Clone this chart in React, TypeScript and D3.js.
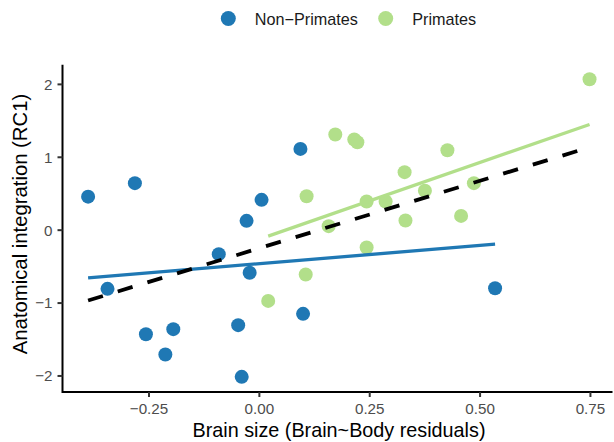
import React from "react";
import * as d3 from "d3";

// values
const nonPrimX = [-0.388, -0.282, -0.344, -0.257, -0.195, -0.213, -0.048, -0.04, -0.092, -0.022, -0.029, 0.005, 0.093, 0.099, 0.534];
const nonPrimY = [0.46, 0.645, -0.805, -1.427, -1.358, -1.706, -1.303, -2.012, -0.329, -0.585, 0.128, 0.416, 1.115, -1.148, -0.796];
const primX = [0.748, 0.172, 0.215, 0.222, 0.426, 0.329, 0.107, 0.375, 0.486, 0.243, 0.286, 0.331, 0.457, 0.157, 0.243, 0.105, 0.02];
const primY = [2.071, 1.312, 1.244, 1.207, 1.097, 0.796, 0.466, 0.54, 0.645, 0.393, 0.393, 0.133, 0.196, 0.055, -0.238, -0.608, -0.97];

// fitted lines: [x0, x1], [y0, y1]
const nonPrimFitX = [-0.388, 0.534];
const nonPrimFitY = [-0.654, -0.192];
const primFitX = [0.02, 0.748];
const primFitY = [-0.082, 1.45];
const allFitX = [-0.388, 0.748];
const allFitY = [-0.965, 1.137];

const groups = ["Non\u2212Primates", "Primates"];
const colors = ["#1f78b4", "#b2df8a"];
const xTicks = [-0.25, 0, 0.25, 0.5, 0.75];
const yTicks = [-2, -1, 0, 1, 2];

const W = 614;
const H = 442;
const font = "'Liberation Sans', Arial, Helvetica, sans-serif";

export default function App() {
  const x = d3.scaleLinear().domain([-0.446, 0.8]).range([62.5, 612.5]);
  const y = d3.scaleLinear().domain([-2.22, 2.27]).range([392, 64.7]);
  const line = d3
    .line<[number, number]>()
    .x((d) => x(d[0]))
    .y((d) => y(d[1]));
  const fmtX = d3.format(".2f");
  const fmtY = d3.format("d");

  const left = x.range()[0];
  const bottom = y.range()[0];
  const top = y.range()[1];
  const right = x.range()[1];

  const nonPrim = nonPrimX.map((v, i) => [v, nonPrimY[i]]);
  const prim = primX.map((v, i) => [v, primY[i]]);
  const fits = [
    { xs: nonPrimFitX, ys: nonPrimFitY, color: colors[0], dash: null, w: 3.3 },
    { xs: primFitX, ys: primFitY, color: colors[1], dash: null, w: 3.3 },
    { xs: allFitX, ys: allFitY, color: "#000", dash: "15.5 15.5", w: 3.8 },
  ];

  const legendX = [228.3, 385.7];

  return (
    <svg
      width={W}
      height={H}
      style={{ position: "absolute", left: 0, top: 0, background: "#fff" }}
      fontFamily={font}
    >
      {/* legend */}
      {groups.map((g, i) => (
        <g key={g}>
          <circle cx={legendX[i]} cy={18.5} r={7.5} fill={colors[i]} />
          <text x={legendX[i] + 26.5} y={24.8} fontSize={16.2} fill="#1a1a1a">
            {g}
          </text>
        </g>
      ))}

      {/* points */}
      {nonPrim.map((d, i) => (
        <circle key={"n" + i} cx={x(d[0])} cy={y(d[1])} r={7} fill={colors[0]} />
      ))}
      {prim.map((d, i) => (
        <circle key={"p" + i} cx={x(d[0])} cy={y(d[1])} r={7} fill={colors[1]} />
      ))}

      {/* fitted lines */}
      {fits.map((f, i) => (
        <path
          key={"f" + i}
          d={line(f.xs.map((v, j) => [v, f.ys[j]]) as [number, number][]) || ""}
          fill="none"
          stroke={f.color}
          strokeWidth={f.w}
          strokeDasharray={f.dash || undefined}
        />
      ))}

      {/* axes */}
      <line x1={left} x2={right} y1={bottom} y2={bottom} stroke="#000" strokeWidth={2} />
      <line x1={left} x2={left} y1={top} y2={bottom + 1} stroke="#000" strokeWidth={2} />
      {xTicks.map((t) => (
        <g key={"x" + t}>
          <line x1={x(t)} x2={x(t)} y1={bottom} y2={bottom + 5} stroke="#333" strokeWidth={2} />
          <text x={x(t)} y={413.5} textAnchor="middle" fontSize={15.2} fill="#4d4d4d">
            {fmtX(t)}
          </text>
        </g>
      ))}
      {yTicks.map((t) => (
        <g key={"y" + t}>
          <line x1={left - 5} x2={left} y1={y(t)} y2={y(t)} stroke="#333" strokeWidth={2} />
          <text x={52.5} y={y(t) + 5.4} textAnchor="end" fontSize={15.2} fill="#4d4d4d">
            {fmtY(t)}
          </text>
        </g>
      ))}

      {/* axis titles */}
      <text x={339} y={436.5} textAnchor="middle" fontSize={19.8} fill="#000">
        Brain size (Brain~Body residuals)
      </text>
      <text
        transform={`translate(27,224) rotate(-90)`}
        textAnchor="middle"
        fontSize={20.3}
        fill="#000"
      >
        Anatomical integration (RC1)
      </text>
    </svg>
  );
}
